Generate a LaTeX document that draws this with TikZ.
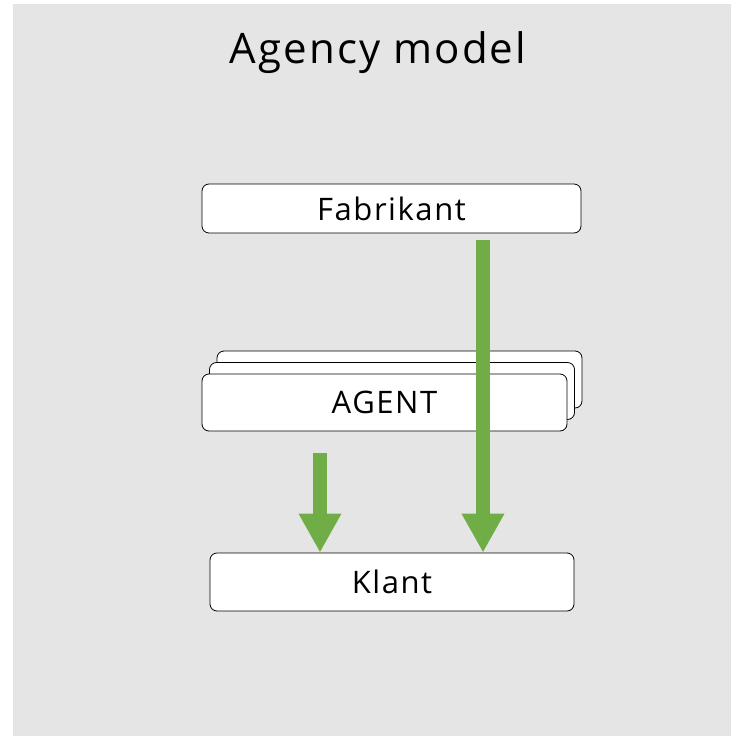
\documentclass[tikz,border=0pt]{standalone}
\usepackage{fontspec}
\setmainfont[LetterSpace=5]{Open Sans}
\usepackage{tikz}
\usetikzlibrary{positioning,shadows,arrows.meta}

\definecolor{bggray}{HTML}{E5E5E5}
\definecolor{arrowgreen}{HTML}{70AD47}

\tikzset{
  box/.style={draw=black, line width=0.8pt, fill=white, rounded corners=7pt,
    inner sep=0pt, font=\fontsize{31}{36}\selectfont},
  bigarrow/.style={draw=arrowgreen, line width=13.5pt,
    -{Triangle[width=40pt,length=39pt]}}
}

\begin{document}
\begin{tikzpicture}[x=1pt,y=1pt]
				\useasboundingbox (0,0) rectangle (731,-736);
				\fill[bggray] (13,-4) rectangle (731,-736);
				\node[font=\fontsize{42}{48}\selectfont] (title) at (378,-53) {Agency model};
				% boxes
				\node[box, minimum width=379pt, minimum height=49pt] (fabrikant) at (391.5,-208.5) {Fabrikant};
				\node[box, minimum width=365pt, minimum height=57pt,
				      double copy shadow={shadow xshift=7.5pt, shadow yshift=11.5pt, draw=black, fill=white}] (agent) at (384.5,-402.5) {AGENT};
				\node[box, minimum width=364pt, minimum height=58pt] (klant) at (392,-582) {Klant};
				% arrows
				\coordinate (leftstart) at (320,-453);
				\coordinate (rightstart) at (483,-240);
				\draw[bigarrow] (leftstart) -- (leftstart |- klant.north);
				\draw[bigarrow] (rightstart) -- (rightstart |- klant.north);
\end{tikzpicture}
\end{document}
